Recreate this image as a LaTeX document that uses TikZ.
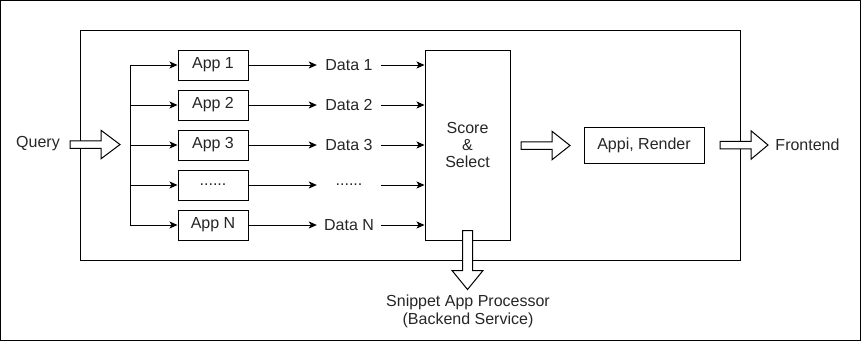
\documentclass[tikz,border=0pt]{standalone}
\usepackage{fontspec}
\setmainfont{Liberation Sans}
\usetikzlibrary{arrows.meta,calc}

% hollow block arrow pointing right: start point, total length, head length
\newcommand\fatright[3]{%
  \draw[fat] #1 ++(0,-3.75) -- ++({#2-#3},0) -- ++(0,-10.5) -- ++(#3,14.25)
    -- ++(-#3,14.25) -- ++(0,-10.5) -- ++({-(#2-#3)},0) -- cycle;}
% hollow block arrow pointing down (y axis grows downward)
\newcommand\fatdown[3]{%
  \draw[fat] #1 ++(-5,0) -- ++(0,{#2-#3}) -- ++(-10.5,0) -- ++(15.5,#3)
    -- ++(15.5,-#3) -- ++(-10.5,0) -- ++(0,{-(#2-#3)}) -- cycle;}

\begin{document}
\begin{tikzpicture}[x=1pt,y=-1pt,
  every node/.style={font=\fontsize{16}{18}\selectfont, text=black!85},
  box/.style={draw, line width=1pt, fill=white, inner sep=0pt},
  appbox/.style={box, minimum width=70, minimum height=30},
  datalbl/.style={inner sep=0pt, minimum width=64, minimum height=18},
  link/.style={line width=1pt, -{Stealth[length=8pt,width=7pt,inset=2pt]}},
  fat/.style={draw, line width=1pt, fill=white, line join=miter},
  plain/.style={inner sep=0pt, align=center}]

  \useasboundingbox (0,0) rectangle (861,341);
  % outer frame and service boundary
  \draw[line width=1pt] (0.5,0.5) rectangle (860.5,340.5);
  \draw[line width=1pt] (80,30) rectangle (740,260);

  % app boxes
  \node[appbox] (app1) at (213,65)  {App 1};
  \node[appbox] (app2) at (213,105) {App 2};
  \node[appbox] (app3) at (213,145) {App 3};
  \node[appbox] (app4) at (213,185) {......};
  \node[appbox] (app5) at (213,225) {App N};

  % data labels
  \node[datalbl] (data1) at (349,65)  {Data 1};
  \node[datalbl] (data2) at (349,105) {Data 2};
  \node[datalbl] (data3) at (349,145) {Data 3};
  \node[datalbl] (data4) at (349,185) {......};
  \node[datalbl] (data5) at (349,225) {Data N};

  % scoring stage and renderer
  \node[box, minimum width=85, minimum height=190, align=center] (score) at (467.5,145)
    {Score\\[-1pt]\&\\[-1pt]Select};
  \node[box, minimum width=120, minimum height=36] (render) at (644,145) {Appi, Render};

  % outside labels
  \node[plain] (query) at (38,144) {Query};
  \node[plain] (front) at (807.5,145) {Frontend};
  \node[plain, align=center] (snippet) at (468,311)
    {Snippet App Processor\\(Backend Service)};

  % fan-out of the query
  \coordinate (br1) at (130,65);
  \coordinate (br5) at (130,225);
  \draw[line width=1pt] (br1) -- (br5);
  \foreach \i in {1,...,5} {
    \draw[link] (app\i.west -| br1) -- (app\i.west);
    \draw[link] (app\i.east) -- (data\i.west);
    \draw[link] (data\i.east) -- (data\i.east -| score.west);
  }

  % hollow flow arrows
  \coordinate (qa) at (70,144.5);
  \fatright{(qa)}{50}{19}
  \coordinate (sa) at (521,145.5);
  \fatright{(sa)}{49}{18}
  \coordinate (fa) at (720,145);
  \fatright{(fa)}{48}{17}
  \coordinate (da) at ($(score.south)+(0,-10)$);
  \fatdown{(da)}{59}{19}
\end{tikzpicture}
\end{document}
